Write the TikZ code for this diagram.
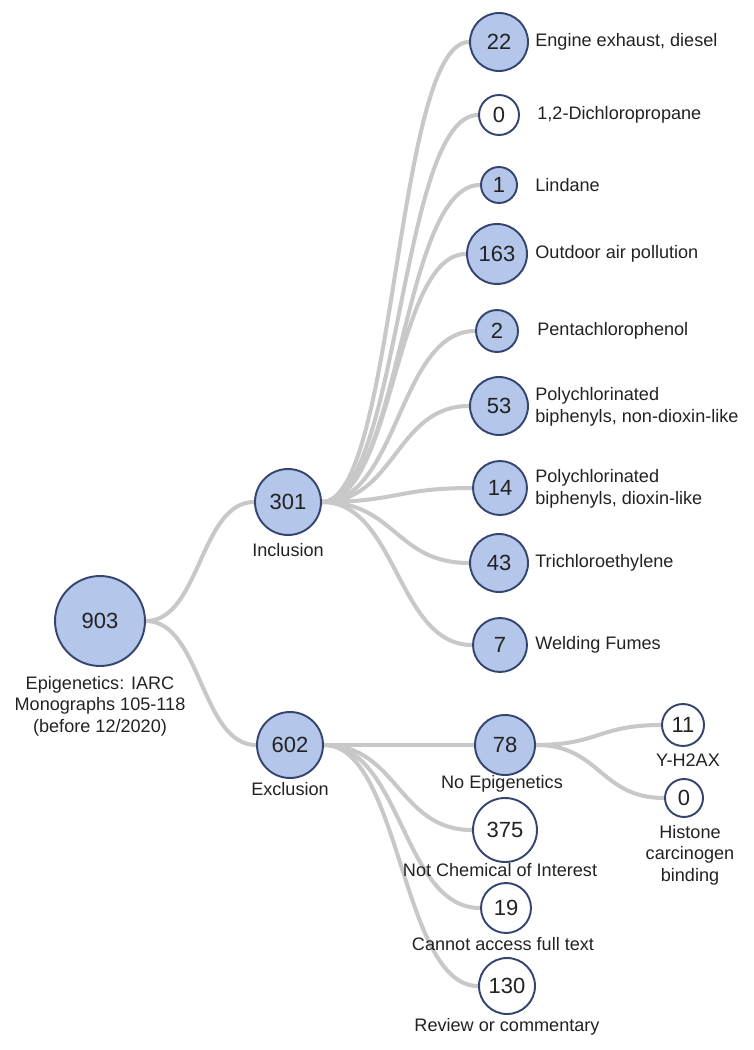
\documentclass[tikz,border=0pt]{standalone}
\usepackage{fontspec}
\setmainfont{Liberation Sans}
\usepackage{xcolor}
\usetikzlibrary{calc}
\usetikzlibrary{backgrounds}

\definecolor{nodefill}{RGB}{180,198,234}
\definecolor{nodeline}{RGB}{52,70,112}
\definecolor{edgegray}{RGB}{200,200,200}
\definecolor{txt}{RGB}{34,34,34}

\tikzset{
  count/.style={circle, draw=nodeline, line width=1.1pt, fill=nodefill, inner sep=0pt,
    minimum size=#1*0.4mm, text=txt, font=\fontsize{12.5}{14}\selectfont},
  zero/.style={count=#1, fill=white},
  lbl/.style={text=txt, font=\fontsize{10.3}{12.2}\selectfont, inner sep=0pt, align=center},
  edge/.style={draw=edgegray, line width=2.3pt}
}

\newcommand{\branch}[2]{%
  \draw[edge] let \p1=(#1.east), \p2=(#2.west) in
    (\p1) .. controls ({(\x1+\x2)/2},\y1) and ({(\x1+\x2)/2},\y2) .. (\p2);}

\begin{document}
\begin{tikzpicture}[x=0.02cm, y=-0.02cm]

      \useasboundingbox (0,0) rectangle (753,1050);

      % root and first split
      \node[count=45] (n903) at (100,621) {903};
      \node[lbl] (t903) at (100,706) {Epigenetics: IARC\\Monographs 105-118\\(before 12/2020)};
      \node[count=33] (n301) at (288,502) {301};
      \node[lbl] (t301) at (288,550) {Inclusion};
      \node[count=33] (n602) at (290,745) {602};
      \node[lbl] (t602) at (290,789) {Exclusion};

      % inclusion
      \node[count=29] (n22) at (499,42) {22};
      \node[zero=20] (n0a) at (499,115) {0};
      \node[count=18] (n1) at (499,185) {1};
      \node[count=30] (n163) at (497,254) {163};
      \node[count=21] (n2) at (497,331) {2};
      \node[count=29] (n53) at (499,406) {53};
      \node[count=27] (n14) at (500,488) {14};
      \node[count=29] (n43) at (499,563) {43};
      \node[count=27] (n7) at (500,645) {7};

      \node[lbl, anchor=west] (t22) at (535,42) {Engine exhaust, diesel};
      \node[lbl, anchor=west] (t0a) at (537,115) {1,2-Dichloropropane};
      \node[lbl, anchor=west] (t1) at (535,185) {Lindane};
      \node[lbl, anchor=west] (t163) at (535,254) {Outdoor air pollution};
      \node[lbl, anchor=west] (t2) at (537,331) {Pentachlorophenol};
      \node[lbl, anchor=west, align=left] (t53) at (535,407) {Polychlorinated\\biphenyls, non-dioxin-like};
      \node[lbl, anchor=west, align=left] (t14) at (535,489) {Polychlorinated\\biphenyls, dioxin-like};
      \node[lbl, anchor=west] (t43) at (535,563) {Trichloroethylene};
      \node[lbl, anchor=west] (t7) at (535,645) {Welding Fumes};

      % exclusion
      \node[count=30] (n78) at (505,745) {78};
      \node[lbl] (t78) at (502,784) {No Epigenetics};
      \node[zero=32] (n375) at (505,830) {375};
      \node[lbl] (t375) at (500,870) {Not Chemical of Interest};
      \node[zero=25] (n19) at (506,908) {19};
      \node[lbl] (t19) at (503,944) {Cannot access full text};
      \node[zero=28] (n130) at (507,986) {130};
      \node[lbl] (t130) at (507,1027) {Review or commentary};

      \node[zero=21] (n11) at (683,725) {11};
      \node[lbl] (t11) at (688,760) {Y-H2AX};
      \node[zero=19] (n0b) at (684,798) {0};
      \node[lbl] (t0b) at (690,855) {Histone\\carcinogen\\binding};

      \begin{pgfonlayer}{background}
        \branch{n903}{n301}
        \branch{n903}{n602}
        \foreach \c in {n22,n0a,n1,n163,n2,n53,n14,n43,n7}
          {\branch{n301}{\c}}
        \foreach \c in {n78,n375,n19,n130}
          {\branch{n602}{\c}}
        \branch{n78}{n11}
        \branch{n78}{n0b}
      \end{pgfonlayer}
    \end{tikzpicture}
\end{document}
